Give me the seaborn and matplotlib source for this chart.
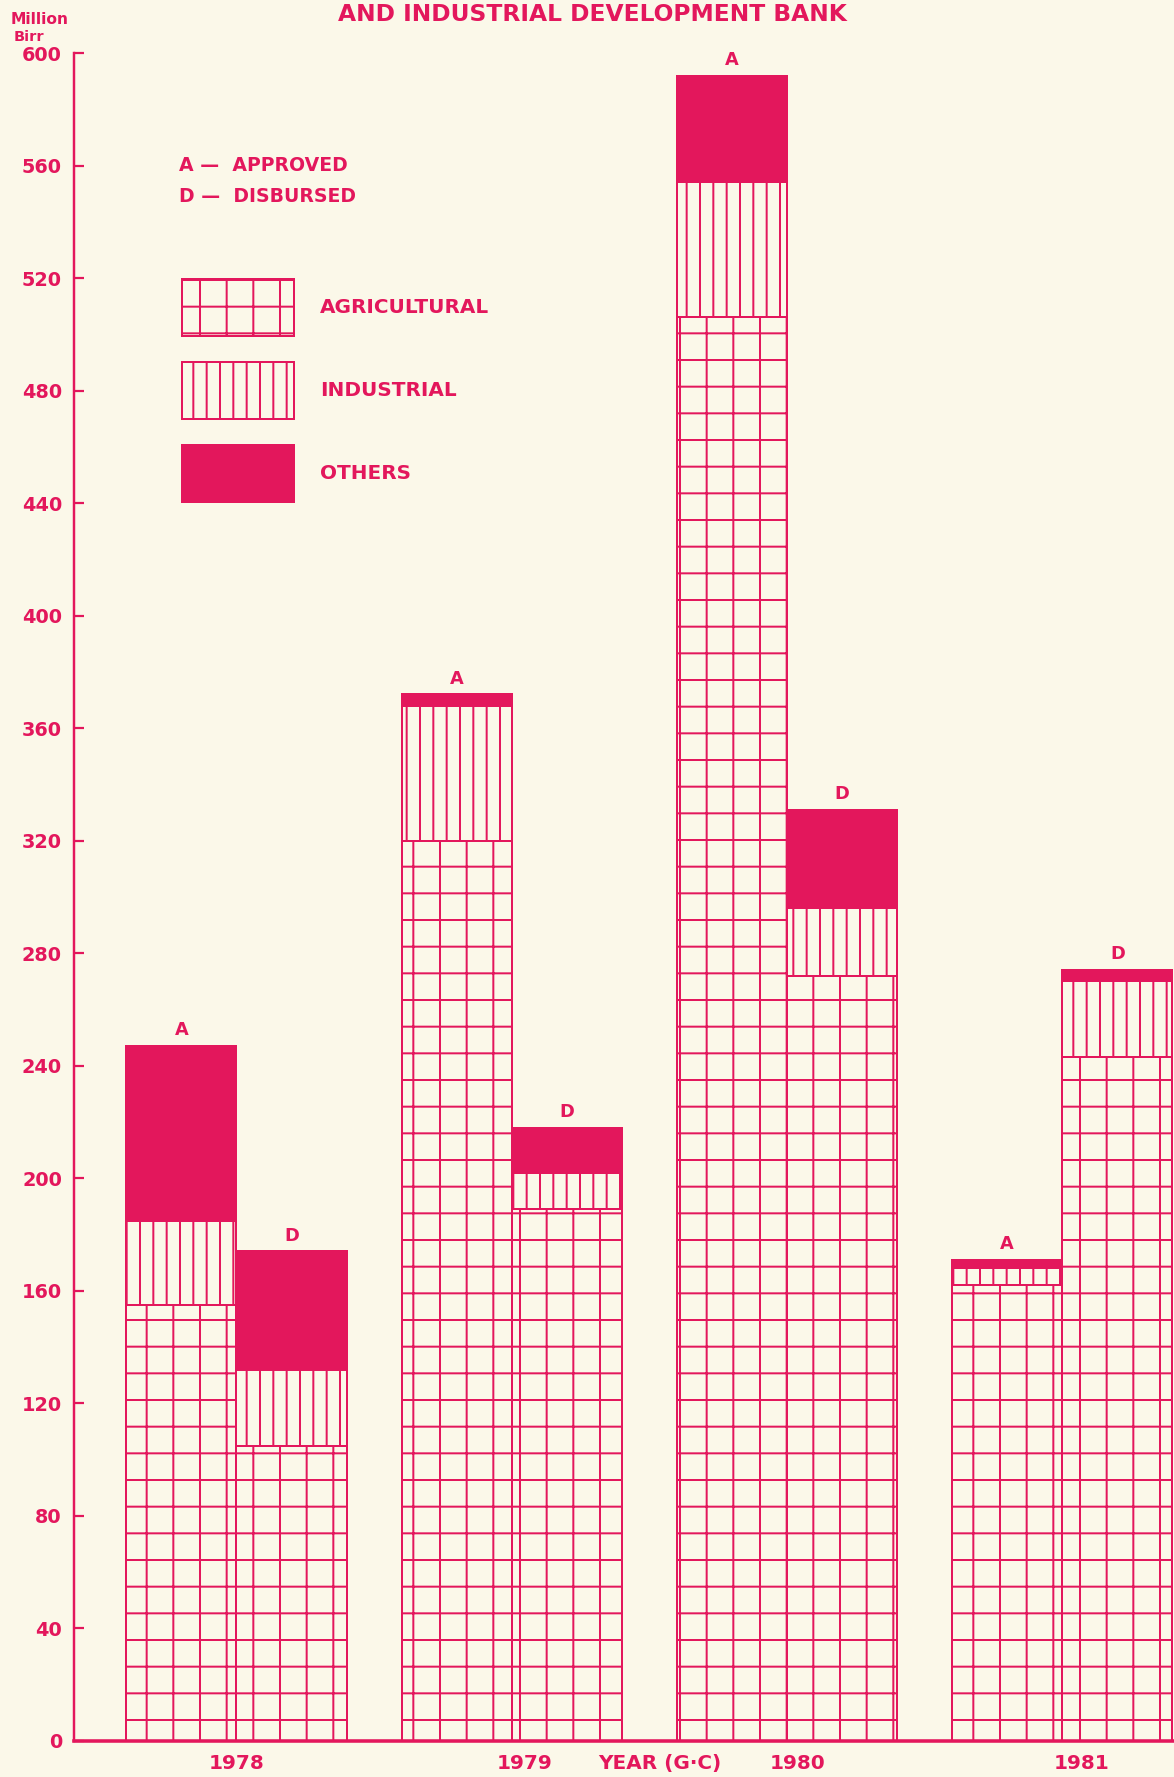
#!/usr/bin/env python3

import numpy as np
import pandas as pd
import seaborn as sns
import matplotlib.pyplot as plt
from matplotlib.patches import Patch

# values in million Birr
years = ['1978', '1979', '1980', '1981']
status = ['A', 'D']
agricultural_A = [155, 320, 506, 162]
industrial_A = [30, 48, 48, 6]
others_A = [62, 4, 38, 3]
agricultural_D = [105, 189, 272, 243]
industrial_D = [27, 13, 24, 27]
others_D = [42, 16, 35, 4]

yticks = list(range(0, 601, 40))
xlabels = ['1978', '1979', 'YEAR (G\u00b7C)', '1980', '1981']
xlabel_pos = [0.0, 1.045, 1.537, 2.037, 3.07]

PINK = '#e3175c'
CREAM = '#fbf8e9'

df = pd.DataFrame({
    'year': years * 2,
    'status': ['A'] * 4 + ['D'] * 4,
    'agri': agricultural_A + agricultural_D,
    'ind': industrial_A + industrial_D,
    'oth': others_A + others_D,
})
df['agri_ind'] = df['agri'] + df['ind']
df['total'] = df['agri_ind'] + df['oth']

sns.set_style('ticks', rc={'axes.facecolor': CREAM, 'figure.facecolor': CREAM})
plt.rcParams['font.family'] = ['DejaVu Sans']
plt.rcParams['font.weight'] = 'bold'
plt.rcParams['hatch.color'] = PINK
plt.rcParams['hatch.linewidth'] = 0.9

fig = plt.figure(figsize=(1174 / 160, 1777 / 160), dpi=160)
ax = fig.add_axes([74 / 1174, 1 - 1741 / 1777, 1 - 74 / 1174, (1741 - 53) / 1777])

layers = [('total', PINK, ''), ('agri_ind', CREAM, '||'), ('agri', CREAM, '+')]
for col, fc, hatch in layers:
    n0 = len(ax.patches)
    sns.barplot(data=df, x='year', y=col, hue='status', order=years, hue_order=status,
                palette={'A': fc, 'D': fc}, saturation=1, width=0.8, dodge=True,
                legend=False, ax=ax, err_kws={'linewidth': 0})
    for p in ax.patches[n0:]:
        p.set_facecolor(fc)
        p.set_edgecolor(PINK)
        p.set_linewidth(0.9)
        p.set_hatch(hatch)

# A / D letters over the stacks
for cont, lab in zip(ax.containers[:2], status):
    ax.bar_label(cont, labels=[lab] * len(cont), padding=3, fontsize=8,
                 fontweight='bold', color=PINK)

ax.set_xlim(-0.59, 3.406)
ax.set_ylim(0, 600)
ax.set_yticks(yticks)
ax.set_yticklabels([str(t) for t in yticks], fontsize=8.7, color=PINK, fontweight='bold')
ax.set_xticks(xlabel_pos)
ax.set_xticklabels(xlabels, fontsize=9, color=PINK, fontweight='bold')
ax.tick_params(axis='y', direction='in', length=4.5, width=1.0, color=PINK, pad=5.4)
ax.tick_params(axis='x', length=0, pad=6)
ax.set_xlabel('')
ax.set_ylabel('')
sns.despine(ax=ax)
ax.spines['left'].set_color(PINK)
ax.spines['left'].set_linewidth(1.1)
ax.spines['bottom'].set_color(PINK)
ax.spines['bottom'].set_linewidth(1.6)

# legend
handles = [Patch(facecolor=CREAM, edgecolor=PINK, hatch='+', linewidth=0.9),
           Patch(facecolor=CREAM, edgecolor=PINK, hatch='||', linewidth=0.9),
           Patch(facecolor=PINK, edgecolor=PINK, linewidth=0.9)]
leg = ax.legend(handles, ['AGRICULTURAL', 'INDUSTRIAL', 'OTHERS'], loc='upper left',
                bbox_to_anchor=(0.098, 0.866), frameon=False, borderpad=0, borderaxespad=0,
                handlelength=5.6, handleheight=4.0, labelspacing=1.3, handletextpad=1.3,
                prop={'size': 9, 'weight': 'bold'}, labelcolor=PINK)

ax.text(-0.21, 560, 'A \u2014  APPROVED', fontsize=8.5, color=PINK, fontweight='bold', va='center')
ax.text(-0.21, 549, 'D \u2014  DISBURSED', fontsize=8.5, color=PINK, fontweight='bold', va='center')

fig.text(0.505, 0.992, 'AND INDUSTRIAL DEVELOPMENT BANK', ha='center', va='center',
         fontsize=10.5, color=PINK, fontweight='bold')
fig.text(0.009, 0.989, 'Million', fontsize=7, color=PINK, fontweight='bold', va='center')
fig.text(0.012, 0.979, 'Birr', fontsize=6.5, color=PINK, fontweight='bold', va='center')

fig.savefig('out.png', dpi=160, facecolor=CREAM)
